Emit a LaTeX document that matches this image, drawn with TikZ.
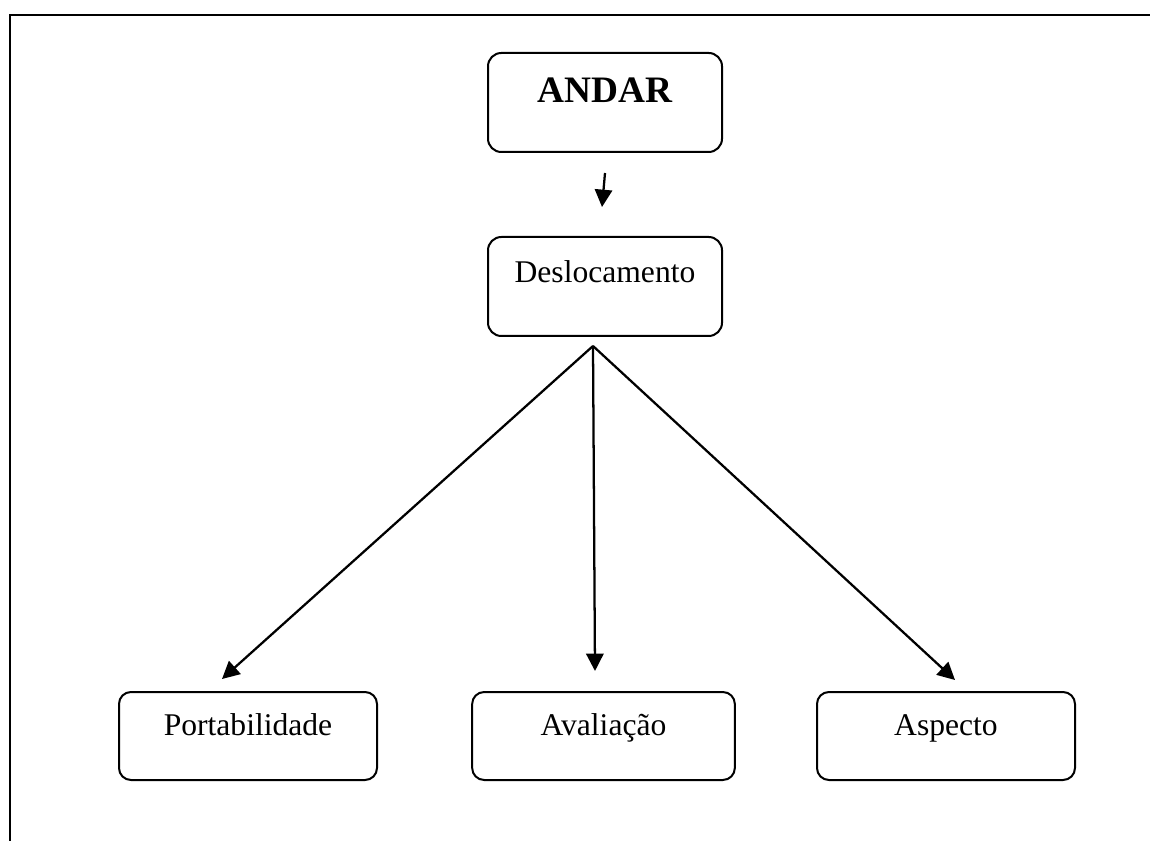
\documentclass[tikz,border=0pt]{standalone}
\usepackage{fontspec}
\setmainfont{Liberation Serif}
\usepackage{tikz}
\usetikzlibrary{arrows.meta,positioning,calc}
\tikzset{
  mainbox/.style={draw, line width=1.5pt, rounded corners=10pt, align=center,
                  minimum width=#1, inner xsep=0pt, inner ysep=0pt,
                  font=\fontsize{23.7}{28}\selectfont},
  mainbox/.default=175.5pt,
  topbox/.style ={mainbox, text height=37.5pt, text depth=36.75pt,
                  font=\fontsize{28}{32}\selectfont\bfseries},
  midbox/.style ={mainbox, text height=34.5pt, text depth=39.75pt},
  leafbox/.style={mainbox=#1, rounded corners=9pt,
                  text height=32.25pt, text depth=33.75pt},
  leafbox/.default=193.5pt,
  arr/.style    ={-{Triangle[length=13pt,width=13pt]}, line width=1.7pt},
}
\begin{document}
\begin{tikzpicture}[x=0.75pt, y=-0.75pt]
  \useasboundingbox (0,0) rectangle (1150,841);
  %% outer frame
  \draw[line width=2pt] (10,841) -- (10,15) -- (1150,15);

  \node[topbox]  (andar) at (605,102.5) {ANDAR};
  \node[midbox]  (desl)  at (605,286.5) {Deslocamento};
  \node[leafbox]          (port) at (248,736)   {Portabilidade};
  \node[leafbox=197pt]    (aval) at (603.5,736) {Avaliação};
  \node[leafbox]          (aspe) at (946,736)   {Aspecto};

  %% fork point under Deslocamento
  \coordinate (fork) at ($(desl.south)+(-12,9)$);

  \draw[arr] ($(andar.south)+(0,20)$) -- ($(desl.north)+(-3,-29)$);
  \draw[arr] (fork) -- ($(port.north)+(-26,-12)$);
  \draw[arr] (fork) -- ($(aval.north)+(-8.5,-20)$);
  \draw[arr] (fork) -- ($(aspe.north)+(9,-11)$);
\end{tikzpicture}
\end{document}
